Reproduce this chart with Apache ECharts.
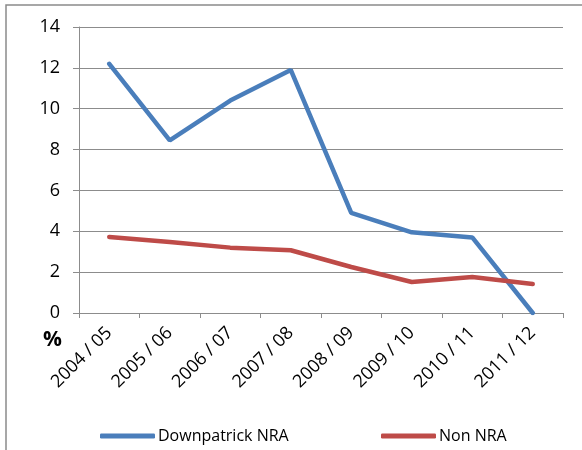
<!DOCTYPE html>
<html>
<head>
<meta charset="utf-8">
<script src="https://cdn.jsdelivr.net/npm/echarts@6/dist/echarts.min.js"></script>
<style>
  html, body { margin: 0; padding: 0; background: #fff; }
  #chart { width: 582px; height: 450px; }
</style>
</head>
<body>
<div id="chart"></div>
<script>
// ======================
// DATA
// ======================

const years = ['2004 / 05', '2005 / 06', '2006 / 07', '2007 / 08', '2008 / 09', '2009 / 10', '2010 / 11', '2011 / 12'];
const downpatrick = [12.2, 8.45, 10.4, 11.9, 4.9, 3.95, 3.7, 0];
const nonNra = [3.72, 3.48, 3.2, 3.07, 2.25, 1.52, 1.76, 1.42];
const yTicks = { min: 0, max: 14, interval: 2 };

// ======================
// CHART
// ======================

const chart = echarts.init(document.getElementById('chart'));

const gridGrey = '#8c8c8c';
const font = '"Open Sans", "Noto Sans", sans-serif';

const option = {
    animation: false,
    textStyle: { fontFamily: font },
    grid: { left: 79, right: 19, top: 27, bottom: 137 },
    graphic: [
        {
            type: 'rect',
            shape: { x: 6, y: 5, width: 800, height: 600 },
            style: { fill: 'none', stroke: '#8a8a8a', lineWidth: 1.5 },
            silent: true
        },
        {
            type: 'text',
            left: 43,
            top: 330,
            style: { text: '%', font: 'bold 21px ' + font, fill: '#000' }
        }
    ],
    legend: [
        {
            data: ['Downpatrick NRA'],
            left: 95,
            top: 423,
            icon: 'roundRect',
            itemWidth: 55,
            itemHeight: 5,
            textStyle: { fontSize: 16, color: '#000', fontFamily: font, padding: [0, 0, 0, -2] }
        },
        {
            data: ['Non NRA'],
            left: 376,
            top: 423,
            icon: 'roundRect',
            itemWidth: 55,
            itemHeight: 5,
            textStyle: { fontSize: 16, color: '#000', fontFamily: font, padding: [0, 0, 0, -2] }
        }
    ],
    xAxis: {
        type: 'category',
        data: years,
        boundaryGap: true,
        axisLine: { lineStyle: { color: gridGrey, width: 1 } },
        axisTick: { show: true, length: 5, lineStyle: { color: gridGrey } },
        axisLabel: {
            rotate: 45,
            margin: 17,
            fontSize: 18,
            color: '#000',
            interval: 0
        }
    },
    yAxis: {
        type: 'value',
        min: yTicks.min,
        max: yTicks.max,
        interval: yTicks.interval,
        axisLine: { show: true, lineStyle: { color: gridGrey, width: 1 } },
        axisTick: { show: true, length: 6, lineStyle: { color: gridGrey } },
        axisLabel: { margin: 19, fontSize: 18, color: '#000' },
        splitLine: { lineStyle: { color: gridGrey, width: 1 } }
    },
    series: [
        {
            name: 'Downpatrick NRA',
            type: 'line',
            data: downpatrick,
            showSymbol: false,
            symbol: 'none',
            color: '#4a7ebb',
            lineStyle: { width: 4.5, color: '#4a7ebb', cap: 'round' }
        },
        {
            name: 'Non NRA',
            type: 'line',
            data: nonNra,
            showSymbol: false,
            symbol: 'none',
            color: '#be4b48',
            lineStyle: { width: 4.5, color: '#be4b48', cap: 'round' }
        }
    ]
};

chart.setOption(option);
</script>
</body>
</html>
